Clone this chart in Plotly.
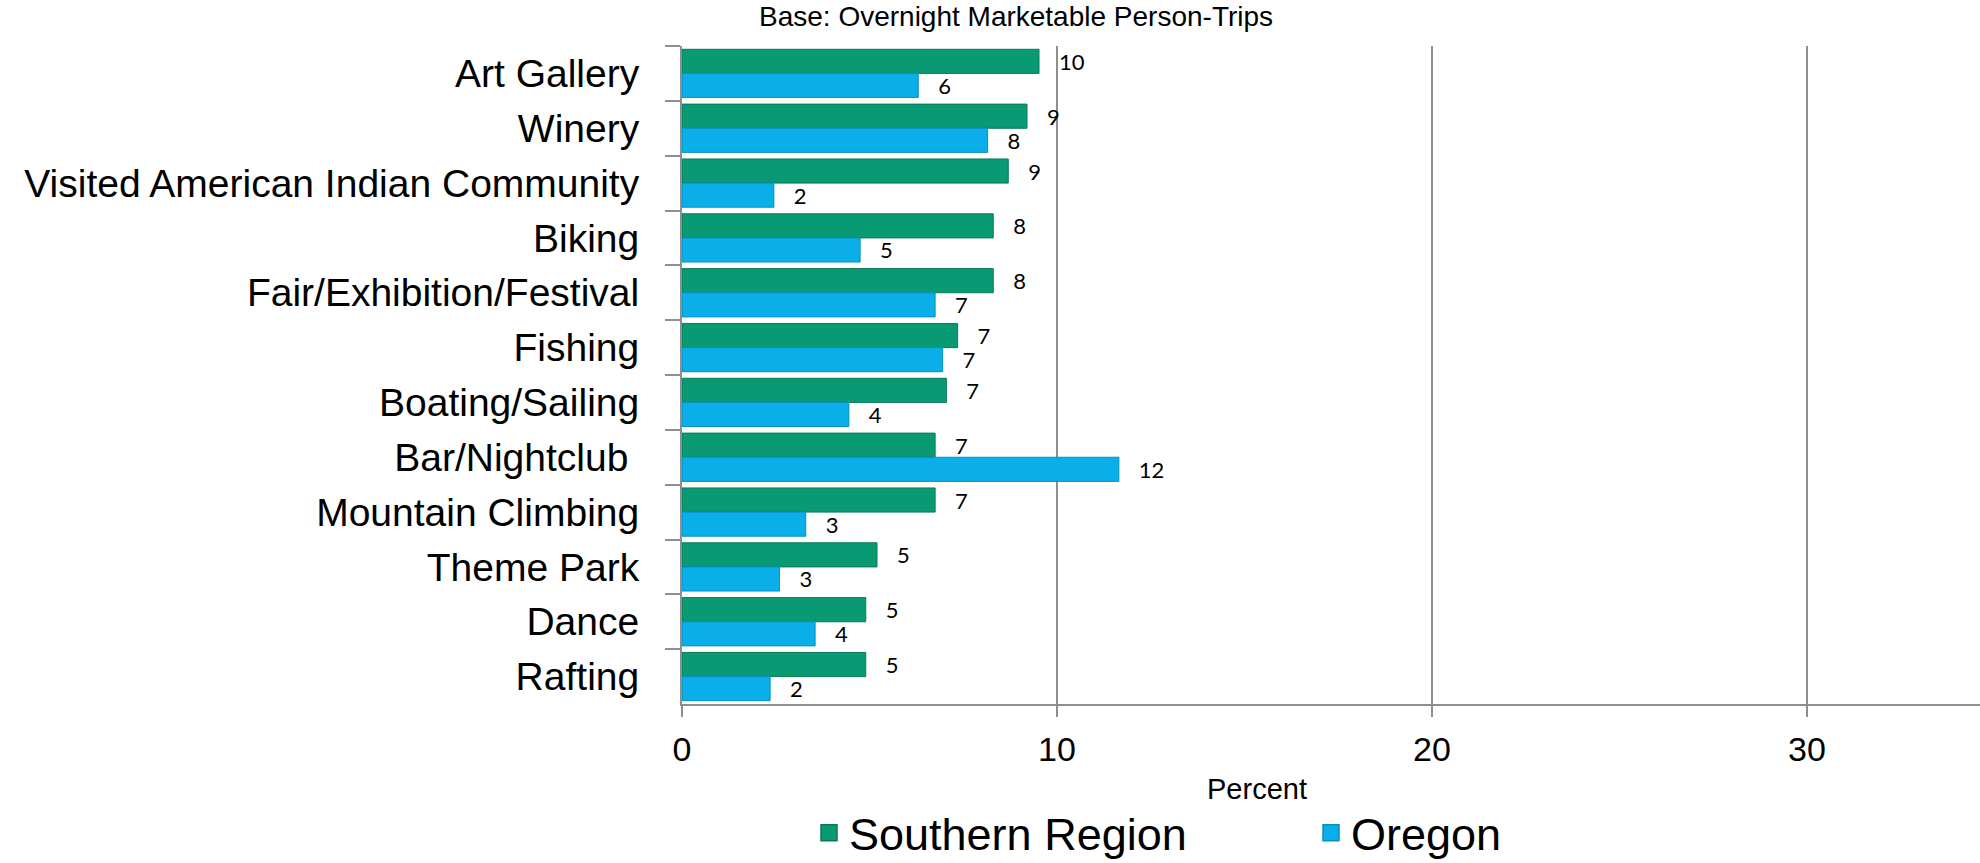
import plotly.graph_objects as go

categories = ["Art Gallery", "Winery", "Visited American Indian Community", "Biking",
              "Fair/Exhibition/Festival", "Fishing", "Boating/Sailing", "Bar/Nightclub\u00a0",
              "Mountain Climbing", "Theme Park", "Dance", "Rafting"]
southern = [9.52, 9.2, 8.7, 8.3, 8.3, 7.35, 7.05, 6.75, 6.75, 5.2, 4.9, 4.9]
oregon = [6.3, 8.15, 2.45, 4.75, 6.75, 6.95, 4.45, 11.65, 3.3, 2.6, 3.55, 2.35]
series_names = ["Southern Region", "Oregon"]
x_ticks = [0, 10, 20, 30]

GREEN = "#0A9A73"
GREEN_EDGE = "#077A5A"
BLUE = "#0AAEE9"
BLUE_EDGE = "#0790C2"
SANS = "Liberation Sans, Arial, sans-serif"
LABEL_FONT = "Lato, Calibri, sans-serif"

W, H = 1980, 863
ML, MT, MB, MR = 682, 46, 159, 0
PW = W - ML - MR
PH = H - MT - MB

fig = go.Figure()
for name, vals, col, edge in [(series_names[0], southern, GREEN, GREEN_EDGE),
                              (series_names[1], oregon, BLUE, BLUE_EDGE)]:
    fig.add_trace(go.Bar(
        y=categories, x=vals, orientation="h", name=name,
        marker=dict(color=col, line=dict(color=edge, width=1)),
        texttemplate="\u00a0\u00a0\u00a0%{x:.0f}", textposition="outside",
        textfont=dict(family=LABEL_FONT, size=22, color="black"),
        constraintext="none", cliponaxis=False, showlegend=False,
    ))
    fig.add_trace(go.Scatter(
        x=[None], y=[None], mode="markers", name=name,
        marker=dict(symbol="square", size=22, color=col, line=dict(color=edge, width=1.5)),
        showlegend=True,
    ))

fig.update_layout(
    width=W, height=H,
    margin=dict(l=ML, r=MR, t=MT, b=MB, pad=0, autoexpand=False),
    paper_bgcolor="white", plot_bgcolor="white",
    barmode="group", bargap=0.12, bargroupgap=0,
    showlegend=True,
    legend=dict(orientation="h", xref="container", yref="container",
                x=809 / W, xanchor="left",
                y=(H - 833) / H, yanchor="middle",
                font=dict(family=SANS, size=45, color="black"),
                entrywidth=457, entrywidthmode="pixels",
                bgcolor="rgba(0,0,0,0)", traceorder="normal"),
    xaxis=dict(range=[0, (W - ML) / 37.5], tickvals=x_ticks, ticktext=[str(t) for t in x_ticks],
               showgrid=True, gridcolor="#8E8E8E", gridwidth=2,
               showline=True, linecolor="#8E8E8E", linewidth=2,
               ticks="outside", ticklen=11, tickwidth=2, tickcolor="#8E8E8E",
               ticklabelstandoff=3, automargin=False,
               tickfont=dict(family=SANS, size=34, color="black"),
               zeroline=False, fixedrange=True),
    yaxis=dict(type="category", categoryorder="array", categoryarray=categories,
               tickmode="linear", tick0=0, dtick=1,
               autorange="reversed", tickson="boundaries",
               showline=True, linecolor="#8E8E8E", linewidth=2,
               ticks="outside", ticklen=15, tickwidth=2, tickcolor="#8E8E8E",
               ticklabelstandoff=33, showgrid=False, automargin=False,
               tickfont=dict(family=SANS, size=39, color="black")),
    font=dict(family=SANS, color="black"),
    annotations=[
        dict(text="Base: Overnight Marketable Person-Trips", xref="paper", yref="paper",
             x=(1016 - ML) / PW, y=(704 - 17) / PH, xanchor="center", yanchor="middle",
             showarrow=False, font=dict(family=SANS, size=28, color="black")),
        dict(text="Percent", xref="paper", yref="paper",
             x=(1257 - ML) / PW, y=(704 - 789) / PH, xanchor="center", yanchor="middle",
             showarrow=False, font=dict(family=SANS, size=29, color="black")),
    ],
)

fig.write_html("out.html")
